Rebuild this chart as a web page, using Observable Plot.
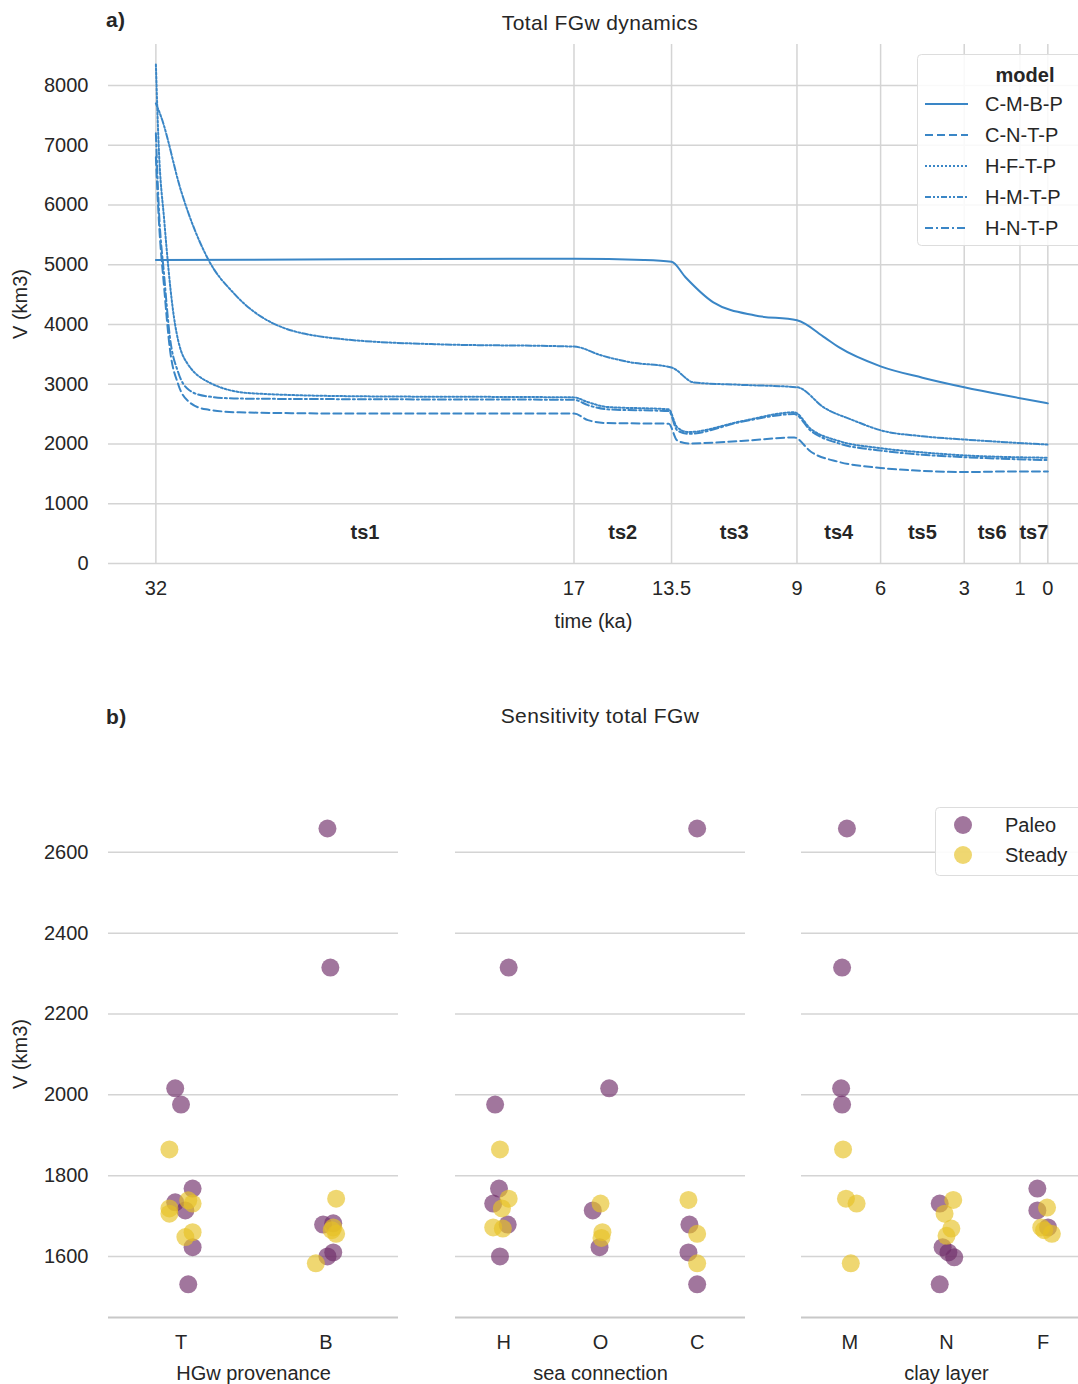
<!DOCTYPE html>
<html><head><meta charset="utf-8">
<script src="https://cdn.jsdelivr.net/npm/d3@7"></script>
<script src="https://cdn.jsdelivr.net/npm/@observablehq/plot@0.6"></script>
<style>
body{margin:0;background:#fff;font-family:"Liberation Sans",Arial,sans-serif;overflow:hidden;}
#wrap{position:relative;width:1078px;height:1384px;overflow:hidden;}
#wrap svg{position:absolute;overflow:visible;}
.t{position:absolute;font-size:21px;color:#262626;letter-spacing:0.4px;}
</style></head><body>
<div id="wrap">
<div class="t" style="left:106px;top:8px;font-weight:bold;">a)</div>
<div class="t" style="left:0;width:1200px;text-align:center;top:11px">Total FGw dynamics</div>
<div class="t" style="left:106px;top:705px;font-weight:bold;">b)</div>
<div class="t" style="left:0;width:1200px;text-align:center;top:704px">Sensitivity total FGw</div>
</div>
<script>
// ---------- data: panel a ----------
const models = ["C-M-B-P","C-N-T-P","H-F-T-P","H-M-T-P","H-N-T-P"];
const dashes = ["none","8,4","2,2","6,2,2,2,2,2","8,3,2,3"];
const tCMBP = [32,25,17,14.5,13.5,13,12,10.5,9,8,7.5,6,4.5,3,1.5,0];
const vCMBP = [5080,5090,5100,5080,5050,4790,4370,4150,4070,3780,3620,3300,3110,2950,2810,2680];
const tCNTP = [32,31.9,31.7,31.5,31.2,30.8,30.2,29,25,17,16.5,15.8,13.6,13.3,12.9,11,9.1,8.5,7.5,6,4.5,3,1.5,0];
const vCNTP = [6800,5800,4600,3600,3000,2700,2580,2530,2510,2510,2400,2350,2340,2060,2010,2050,2110,1870,1700,1600,1550,1530,1540,1540];
const tHFTP = [32,31.9,31.7,31.4,31,30,28.6,25,17,16.5,15.8,13.6,13.3,12.9,11,9.1,8.5,7.5,6,4.5,3,0];
const vHFTP = [8350,7000,5740,4290,3450,3010,2850,2800,2780,2700,2620,2580,2280,2200,2380,2530,2250,2050,1930,1860,1810,1770];
const tHMTP = [32,31.8,31.1,30.1,29.2,27.8,25.6,22,17,16,15,13.5,12.7,11,9,8,7,6,4.5,3,1.5,0];
const vHMTP = [7700,7460,6240,5070,4520,4020,3770,3670,3630,3480,3370,3280,3030,2990,2950,2600,2400,2230,2130,2075,2030,1990];
const tHNTP = [32,31.9,31.7,31.5,31.2,30.8,30.2,29,25,17,16.5,15.8,13.6,13.3,12.9,11,9.1,8.5,7.5,6,4.5,3,0];
const vHNTP = [7200,6000,4800,3800,3200,2900,2800,2760,2750,2740,2650,2580,2550,2230,2170,2370,2500,2220,2010,1890,1820,1780,1730];
const timeTicks = [32,17,13.5,9,6,3,1,0];
const tsLabels = ["ts1","ts2","ts3","ts4","ts5","ts6","ts7"];
const tsPos = [24.5,15.25,11.25,7.5,4.5,2,0.5];
const vTicks = [0,1000,2000,3000,4000,5000,6000,7000,8000];

// ---------- data: panel b ----------
const panelTitles = ["HGw provenance","sea connection","clay layer"];
const panelCats = [["T","B"],["H","O","C"]];
panelCats.push(["M","N","F"]);
// [category, value, status, jitter (fraction of category spacing)]
const p1 = [
 ["T",2016,"Paleo",-0.04],["T",1976,"Paleo",0],["T",1768,"Paleo",0.08],["T",1734,"Paleo",-0.04],["T",1714,"Paleo",0.03],["T",1623,"Paleo",0.08],["T",1531,"Paleo",0.05],
 ["T",1865,"Steady",-0.08],["T",1719,"Steady",-0.08],["T",1706,"Steady",-0.08],["T",1739,"Steady",0.05],["T",1731,"Steady",0.08],["T",1660,"Steady",0.08],["T",1648,"Steady",0.03],
 ["B",2659,"Paleo",0.01],["B",2315,"Paleo",0.03],["B",1679,"Paleo",-0.02],["B",1682,"Paleo",0.05],["B",1610,"Paleo",0.05],["B",1600,"Paleo",0.01],
 ["B",1743,"Steady",0.07],["B",1672,"Steady",0.05],["B",1656,"Steady",0.07],["B",1665,"Steady",0.04],["B",1583,"Steady",-0.07]
];
const p2 = [
 ["H",2315,"Paleo",0.05],["H",1976,"Paleo",-0.09],["H",1768,"Paleo",-0.05],["H",1731,"Paleo",-0.11],["H",1679,"Paleo",0.04],["H",1600,"Paleo",-0.04],
 ["H",1865,"Steady",-0.04],["H",1743,"Steady",0.05],["H",1719,"Steady",-0.02],["H",1672,"Steady",-0.11],["H",1669,"Steady",-0.01],
 ["O",2016,"Paleo",0.09],["O",1714,"Paleo",-0.08],["O",1623,"Paleo",-0.01],
 ["O",1731,"Steady",0],["O",1660,"Steady",0.02],["O",1646,"Steady",0.01],
 ["C",2659,"Paleo",0],["C",1679,"Paleo",-0.08],["C",1610,"Paleo",-0.09],["C",1531,"Paleo",0],
 ["C",1740,"Steady",-0.09],["C",1656,"Steady",0],["C",1583,"Steady",0]
];
const p3 = [
 ["M",2659,"Paleo",-0.03],["M",2315,"Paleo",-0.08],["M",2016,"Paleo",-0.09],["M",1976,"Paleo",-0.08],
 ["M",1865,"Steady",-0.07],["M",1743,"Steady",-0.04],["M",1731,"Steady",0.07],["M",1583,"Steady",0.01],
 ["N",1731,"Paleo",-0.07],["N",1623,"Paleo",-0.04],["N",1610,"Paleo",0.02],["N",1598,"Paleo",0.08],["N",1531,"Paleo",-0.07],
 ["N",1740,"Steady",0.07],["N",1706,"Steady",-0.02],["N",1669,"Steady",0.05],["N",1651,"Steady",0],
 ["F",1768,"Paleo",-0.06],["F",1714,"Paleo",-0.06],["F",1672,"Paleo",0.05],
 ["F",1721,"Steady",0.04],["F",1672,"Steady",-0.02],["F",1656,"Steady",0.09],["F",1665,"Steady",0.01]
];
const statusNames = ["Paleo","Steady"];
const statusColors = ["#6e2c68","#e6c125"];
const bTicks = [1600,1800,2000,2200,2400,2600];

// ---------- drawing ----------
const wrap = document.getElementById("wrap");
const FONT = '"Liberation Sans",Arial,sans-serif';
const BLUE = "#3a86c6", GRID = "#d4d4d4", TXT = "#262626";
const series = [[tCMBP,vCMBP],[tCNTP,vCNTP],[tHFTP,vHFTP],[tHMTP,vHMTP],[tHNTP,vHNTP]];
const fmt = d3.format("d");

function place(svg,left,topPx){svg.style.left=left+"px";svg.style.top=topPx+"px";wrap.appendChild(svg);}

const lineMarks = series.map(([t,v],i)=>Plot.line(t.map((tt,j)=>({t:tt,v:v[j]})),
  {x:"t",y:"v",stroke:BLUE,strokeWidth:2,strokeDasharray:dashes[i],curve:"monotone-x"}));

const chartA = Plot.plot({
  width:1078,height:640,marginLeft:108,marginRight:0,marginTop:44,marginBottom:77,
  style:{fontFamily:FONT,fontSize:"20px",color:TXT,background:"transparent"},
  x:{domain:[33.7,-1.1],ticks:timeTicks,tickFormat:d=>String(d),tickSize:0,tickPadding:17,label:"time (ka)",labelAnchor:"center",labelArrow:"none",labelOffset:64},
  y:{domain:[0,8686],ticks:vTicks,tickFormat:fmt,tickSize:0,tickPadding:20,label:"V (km3)",labelAnchor:"center",labelArrow:"none",labelOffset:96},
  marks:[
    Plot.ruleY(vTicks,{stroke:GRID,strokeWidth:1.5}),
    Plot.ruleX(timeTicks,{stroke:GRID,strokeWidth:1.5}),
    ...lineMarks,
    Plot.text(tsLabels,{x:(d,i)=>tsPos[i],y:()=>520,text:d=>d,fontWeight:"bold",fontSize:20,fill:TXT})
  ]
});
place(chartA,0,0);

// legend a
const la = d3.create("svg").attr("width",180).attr("height",200);
la.append("rect").attr("x",0.5).attr("y",0.5).attr("width",175).attr("height",191).attr("rx",4)
  .attr("fill","rgba(255,255,255,0.85)").attr("stroke","#ddd");
la.append("text").attr("x",108).attr("y",28).attr("text-anchor","middle").attr("font-weight","bold")
  .attr("font-family",FONT).attr("font-size",20).attr("fill",TXT).text("model");
models.forEach((m,i)=>{
  const y=50+i*31;
  la.append("line").attr("x1",8).attr("x2",51).attr("y1",y).attr("y2",y).attr("stroke",BLUE).attr("stroke-width",2).attr("stroke-dasharray",dashes[i]);
  la.append("text").attr("x",68).attr("y",y+7).attr("font-family",FONT).attr("font-size",20).attr("fill",TXT).text(m);
});
place(la.node(),917,54);

// panel b
const panels=[p1,p2,p3];
const lefts=[0,455,801];
panels.forEach((pd,k)=>{
  const cats=panelCats[k], n=cats.length;
  const first=k===0;
  const ml=first?108:0;
  const w=(first?108:0)+290;
  const data=pd.map(([c,v,s,j])=>({x:cats.indexOf(c)+j,v,s}));
  const p=Plot.plot({
    width:w,height:604,marginLeft:ml,marginRight:0,marginTop:10,marginBottom:67,
    style:{fontFamily:FONT,fontSize:"20px",color:TXT,background:"transparent",overflow:"visible"},
    x:{domain:[-0.5,n-0.5],ticks:d3.range(n),tickFormat:i=>cats[i],tickSize:0,tickPadding:17,label:panelTitles[k],labelAnchor:"center",labelArrow:"none",labelOffset:62},
    y:{domain:[1449,2753],ticks:bTicks,tickFormat:fmt,tickSize:0,tickPadding:20,label:"V (km3)",labelAnchor:"center",labelArrow:"none",labelOffset:96,axis:first?"left":null},
    color:{domain:statusNames,range:statusColors},
    marks:[
      Plot.ruleY(bTicks,{stroke:GRID,strokeWidth:1.5}),
      Plot.ruleY([1449],{stroke:"#c8c8c8",strokeWidth:2}),
      Plot.dot(data,{x:"x",y:"v",fill:"s",r:9,fillOpacity:0.65,stroke:"none"})
    ]
  });
  place(p,lefts[k],780);
});

// legend b
const lb = d3.create("svg").attr("width",150).attr("height",72);
lb.append("rect").attr("x",0.5).attr("y",0.5).attr("width",148).attr("height",68).attr("rx",4)
  .attr("fill","rgba(255,255,255,0.9)").attr("stroke","#ddd");
statusNames.forEach((s,i)=>{
  const y=18+i*30;
  lb.append("circle").attr("cx",28).attr("cy",y).attr("r",9).attr("fill",statusColors[i]).attr("fill-opacity",0.65);
  lb.append("text").attr("x",70).attr("y",y+7).attr("font-family",FONT).attr("font-size",20).attr("fill",TXT).text(s);
});
place(lb.node(),935,807);
</script>
</body></html>
